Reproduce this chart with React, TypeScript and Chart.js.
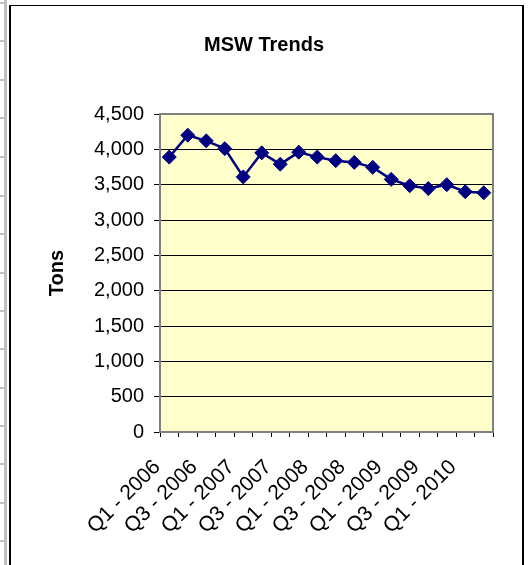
import React, { useEffect, useRef } from "react";
import { Chart, registerables } from "chart.js";

Chart.register(...registerables);

const categories = [
  "Q1 - 2006", "Q2 - 2006", "Q3 - 2006", "Q4 - 2006",
  "Q1 - 2007", "Q2 - 2007", "Q3 - 2007", "Q4 - 2007",
  "Q1 - 2008", "Q2 - 2008", "Q3 - 2008", "Q4 - 2008",
  "Q1 - 2009", "Q2 - 2009", "Q3 - 2009", "Q4 - 2009",
  "Q1 - 2010", "Q2 - 2010",
];
const tonsValues = [
  3890, 4200, 4120, 4010, 3610, 3950, 3790, 3960, 3890,
  3840, 3815, 3745, 3575, 3485, 3445, 3500, 3400, 3385,
];
const titleText = "MSW Trends";
const yAxisTitle = "Tons";
const yMin = 0;
const yMax = 4500;
const yStep = 500;

const FONT = "'Liberation Sans', Arial, sans-serif";
const sheetRows = [2, 40, 79, 117, 156, 195, 233, 272, 310, 348, 387, 425, 463, 502, 540];

const plotAreaPlugin = {
  id: "plotArea",
  beforeDraw(chart: any) {
    const { ctx, chartArea } = chart;
    ctx.save();
    ctx.fillStyle = "#FFFFCC";
    ctx.fillRect(chartArea.left, chartArea.top, chartArea.right - chartArea.left, chartArea.bottom - chartArea.top);
    ctx.restore();
  },
  beforeDatasetsDraw(chart: any) {
    const { ctx, chartArea } = chart;
    ctx.save();
    ctx.strokeStyle = "#808080";
    ctx.lineWidth = 2;
    ctx.strokeRect(chartArea.left, chartArea.top, chartArea.right - chartArea.left, chartArea.bottom - chartArea.top);
    ctx.restore();
  },
};

export default function App() {
  const canvasRef = useRef<HTMLCanvasElement | null>(null);

  useEffect(() => {
    document.body.style.margin = "0";
    const canvas = canvasRef.current;
    if (!canvas) return;
    const chart = new Chart(canvas, {
      type: "line",
      data: {
        labels: categories,
        datasets: [
          {
            data: tonsValues,
            borderColor: "#000080",
            backgroundColor: "#000080",
            borderWidth: 2.5,
            pointStyle: "rectRot",
            pointRadius: 7,
            pointBorderWidth: 1,
            pointBackgroundColor: "#000080",
            pointBorderColor: "#000080",
            tension: 0,
            fill: false,
          },
        ],
      },
      options: {
        responsive: false,
        animation: false,
        devicePixelRatio: 1,
        layout: { padding: { left: 35, right: 36, top: 20, bottom: 0 } },
        plugins: {
          legend: { display: false },
          tooltip: { enabled: false },
          title: {
            display: true,
            text: titleText,
            color: "#000",
            font: { family: FONT, size: 20, weight: "bold", lineHeight: 1.2 },
            padding: { top: 13, bottom: 57 },
          },
        },
        scales: {
          x: {
            type: "category",
            offset: true,
            grid: {
              display: true,
              offset: true,
              drawOnChartArea: false,
              drawTicks: true,
              tickLength: 5,
              color: "#000",
              tickColor: "#000",
              lineWidth: 1,
            },
            border: { display: false },
            ticks: {
              autoSkip: false,
              maxRotation: 45,
              minRotation: 45,
              padding: 18,
              labelOffset: -12,
              color: "#000",
              font: { family: FONT, size: 21 },
              callback: (_v: any, i: number) => (i % 2 === 0 ? categories[i] : ""),
            },
            afterFit: (scale: any) => {
              scale.height = 133;
            },
          },
          y: {
            min: yMin,
            max: yMax,
            grid: {
              color: "#000",
              tickColor: "#000",
              lineWidth: 1,
              tickLength: 6,
            },
            border: { display: false },
            ticks: {
              stepSize: yStep,
              padding: 10,
              color: "#000",
              font: { family: FONT, size: 20 },
              callback: (v: any) => Number(v).toLocaleString("en-US"),
            },
            title: {
              display: true,
              text: yAxisTitle,
              color: "#000",
              font: { family: FONT, size: 20, weight: "bold", lineHeight: 1.2 },
              padding: { top: 10, bottom: 0 },
            },
            afterFit: (scale: any) => {
              scale.width = 125;
            },
          },
        },
      },
      plugins: [plotAreaPlugin],
    });
    return () => chart.destroy();
  }, []);

  return (
    <div style={{ position: "fixed", left: 0, top: 0, width: 529, height: 565, overflow: "hidden", background: "#fff" }}>
      <div style={{ position: "absolute", left: 4, top: 0, width: 3, height: 565, background: "#c0c0c0" }} />
      {sheetRows.map((r) => (
        <div key={r} style={{ position: "absolute", left: 0, top: r, width: 7, height: 2, background: "#c0c0c0" }} />
      ))}
      <div
        style={{
          position: "absolute",
          left: 9,
          top: 5,
          width: 511,
          height: 600,
          borderTop: "1px solid #000",
          borderLeft: "2px solid #000",
          borderRight: "2px solid #000",
          background: "#fff",
        }}
      />
      <canvas
        ref={canvasRef}
        width={529}
        height={565}
        style={{ position: "absolute", left: 0, top: 0, width: 529, height: 565 }}
      />
    </div>
  );
}
